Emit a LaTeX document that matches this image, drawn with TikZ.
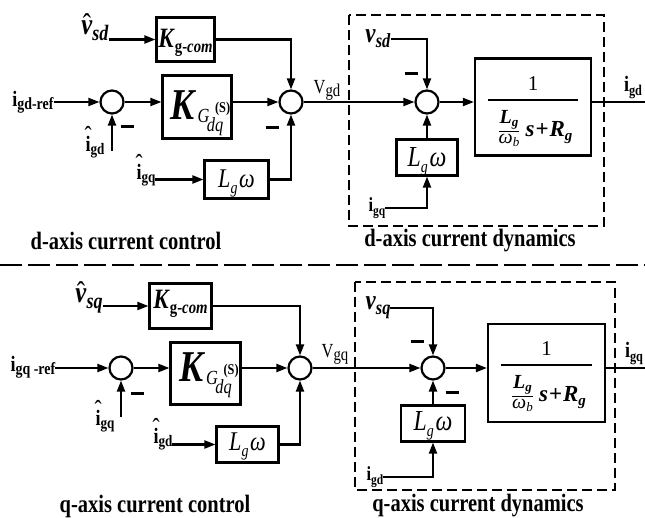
\documentclass[tikz,border=0pt]{standalone}
\usepackage{fontspec}
\setmainfont{Liberation Serif}
\usepackage{graphicx}
\usetikzlibrary{arrows.meta}
\newcommand{\fsz}[2]{{\fontsize{#1}{#1}\selectfont #2}}
\newcommand{\sq}[1]{\scalebox{0.82}[1]{#1}}
\newcommand{\bi}[1]{\textbf{\textit{#1}}}
\newcommand{\lo}[2][4pt]{\raisebox{-#1}{#2}}
\newcommand{\bl}[2]{\raisebox{-#1}[0pt][0pt]{#2}}
\newcommand{\hatover}[3]{\ooalign{#1\cr\hidewidth\raisebox{#2}{\fsz{#3}{\symbol{"02C6}}}\hidewidth\cr}}
\newcommand{\KGtxt}{\sq{\fsz{44}{\bi{K}}\hspace{1pt}\lo[3pt]{\fsz{20}{\textit{G}}}\rlap{\hspace{7pt}\raisebox{7pt}{\fsz{15}{\textbf{(S)}}}}\hspace{-3pt}\lo[12pt]{\fsz{20}{\textit{dq}}}}}
\newcommand{\KCtxt}{\sq{\fsz{28}{\bi{K}}\lo[5pt]{\fsz{18}{\textbf{g-}\bi{com}}}}}
\newcommand{\LWtxt}[1]{\sq{\fsz{#1}{\textit{L}}\lo[6pt]{\fsz{17}{\textit{g}}}\hspace{2pt}\fsz{#1}{\textit{ω}}}}
\newcommand{\TFtxt}{\fsz{20}{$\displaystyle{\hbox{\fsz{21}{1}}\above 1.8pt\hbox{\rule{0pt}{30pt}\hspace{10pt}${\hbox{\fsz{20}{\bi{L}\lo[3pt]{\fsz{13}{\bi{g}}}}}\above 0.8pt\hbox{\fsz{20}{\textit{ω}\lo[3pt]{\fsz{13}{\textit{b}}}}}}$\hspace{5pt}\fsz{23}{\bi{s}\hspace{1pt}\textbf{+}\hspace{1pt}\bi{R}\lo[4pt]{\fsz{15}{\bi{g}}}}\hspace{6pt}}}$}}
\begin{document}
\begin{tikzpicture}[x=1pt,y=-1pt,
  blk/.style={draw, line width=2.2pt, inner sep=0pt},
  sumn/.style={circle, draw, line width=2.2pt, minimum size=23pt, inner sep=0pt},
  lbl/.style={inner sep=0pt, outer sep=0pt},
  sig/.style={line width=2.1pt, -{Triangle[length=11pt,width=8pt]}},
  wire/.style={line width=2.1pt},
  frame/.style={line width=2.2pt, dash pattern=on 10pt off 5pt},
  sepline/.style={line width=2.2pt, dash pattern=on 22pt off 6pt},
  minus/.style={inner sep=0pt}
]
\useasboundingbox (0,0) rectangle (645,518);
% ================= d-axis =================
\node[blk, minimum width=58pt, minimum height=44pt] (kgc1) at (185.5,39.5) {\bl{8.5pt}{\KCtxt}};
\node[blk, minimum width=69pt, minimum height=63pt] (kg1) at (197,107) {\bl{13pt}{\KGtxt}};
\node[blk, minimum width=64pt, minimum height=38pt] (lgc1) at (236.5,179.5) {\bl{8.5pt}{\LWtxt{27}}};
\node[blk, minimum width=116pt, minimum height=97pt] (tf1) at (533,107) {\bl{-2pt}{\TFtxt}};
\node[blk, minimum width=61pt, minimum height=36pt] (lgd1) at (427,157.5) {\bl{9.5pt}{\LWtxt{29}}};
\node[sumn] (s1) at (112,102) {};
\node[sumn] (s2) at (291,102) {};
\node[sumn] (s3) at (427,102) {};
\node[lbl] (vsdh) at (95,31) {\sq{\fsz{30}{\hatover{\bi{v}}{0pt}{30}}\lo[6pt]{\fsz{22}{\bi{sd}}}}};
\node[lbl] (igdref) at (33,102) {\sq{\fsz{22}{\textbf{i}}\lo[3pt]{\fsz{17}{\textbf{gd-ref}}}}};
\node[lbl] (igdh) at (95,147) {\sq{\fsz{22}{\hatover{\textbf{i}}{7pt}{26}}\lo[3pt]{\fsz{16}{\textbf{gd}}}}};
\node[lbl] (igqh) at (146,175) {\sq{\fsz{22}{\hatover{\textbf{i}}{7pt}{26}}\lo[3pt]{\fsz{16}{\textbf{gq}}}}};
\node[lbl] (vgd) at (327,90) {\sq{\fsz{20}{V}\lo[3pt]{\fsz{18}{gd}}}};
\node[lbl] (vsd) at (378,39) {\sq{\fsz{28}{\bi{v}}\lo[5pt]{\fsz{20}{\bi{sd}}}}};
\node[lbl] (igqd) at (377,208) {\sq{\fsz{20}{\textbf{i}}\lo[4pt]{\fsz{14}{\textbf{gq}}}}};
\node[lbl] (igdo) at (633,88) {\sq{\fsz{22}{\textbf{i}}\lo[4pt]{\fsz{15}{\textbf{gd}}}}};
\node[minus] (m1) at (127,127) {\rule{13pt}{3pt}};
\node[minus] (m2) at (272,128) {\rule{13pt}{3pt}};
\node[minus] (m3) at (411,74) {\rule{13pt}{3pt}};
\coordinate (igdhs) at (112,151);
\coordinate (o1) at (645,102);
\draw[sig] (vsdh.east |- kgc1.west) -- (kgc1.west);
\draw[sig] (kgc1.east) -| (s2.north);
\draw[sig] (igdref.east |- s1) -- (s1.west);
\draw[sig] (s1.east) -- (s1 -| kg1.west);
\draw[sig] (kg1.east |- s2) -- (s2.west);
\draw[sig] (igdhs) -- (s1.south);
\draw[sig] (igqh.east |- lgc1) -- (lgc1.west);
\draw[sig] (lgc1.east) -| (s2.south);
\draw[sig] (s2.east) -- (s3.west);
\draw[sig] (vsd.east) -| (s3.north);
\draw[sig] (lgd1.north) -- (s3.south);
\draw[sig] (igqd.east) -| (lgd1.south);
\draw[sig] (s3.east) -- (s3 -| tf1.west);
\draw[wire] (tf1.east |- s3) -- (o1);
\draw[frame] (349,15) rectangle (604,226);
\node[lbl] (cap1) at (126,241) {\sq{\fsz{25}{\textbf{d-axis current control}}}};
\node[lbl] (cap2) at (470,241) {\sq{\fsz{25}{\textbf{d-axis current dynamics}}}};
% separator
\draw[sepline] (0,265) -- (645,265);
% ================= q-axis =================
\node[blk, minimum width=62pt, minimum height=45pt] (kgc2) at (180.5,306) {\bl{2.5pt}{\KCtxt}};
\node[blk, minimum width=70pt, minimum height=62pt] (kg2) at (205.5,373.5) {\bl{8.5pt}{\KGtxt}};
\node[blk, minimum width=62pt, minimum height=36pt] (lgc2) at (247.5,444.5) {\bl{5.5pt}{\LWtxt{27}}};
\node[blk, minimum width=117pt, minimum height=98pt] (tf2) at (546.5,373) {\bl{-3pt}{\TFtxt}};
\node[blk, minimum width=64pt, minimum height=36pt] (lgd2) at (433,423.5) {\bl{6.5pt}{\LWtxt{29}}};
\node[sumn] (t1) at (121,368) {};
\node[sumn] (t2) at (300,368) {};
\node[sumn] (t3) at (433,368) {};
\node[lbl] (vsqh) at (89,301) {\sq{\fsz{30}{\hatover{\bi{v}}{0pt}{30}}\lo[6pt]{\fsz{22}{\bi{sq}}}}};
\node[lbl] (igqref) at (33,367) {\sq{\fsz{22}{\textbf{i}}\lo[3pt]{\fsz{17}{\textbf{gq -ref}}}}};
\node[lbl] (igqh2) at (105,421) {\sq{\fsz{22}{\hatover{\textbf{i}}{7pt}{26}}\lo[3pt]{\fsz{16}{\textbf{gq}}}}};
\node[lbl] (igdh2) at (163,439) {\sq{\fsz{22}{\hatover{\textbf{i}}{7pt}{26}}\lo[3pt]{\fsz{16}{\textbf{gd}}}}};
\node[lbl] (vgq) at (335,354) {\sq{\fsz{20}{V}\lo[3pt]{\fsz{18}{gq}}}};
\node[lbl] (vsq) at (378,308) {\sq{\fsz{28}{\bi{v}}\lo[5pt]{\fsz{20}{\bi{sq}}}}};
\node[lbl] (igdd) at (375,477) {\sq{\fsz{20}{\textbf{i}}\lo[4pt]{\fsz{14}{\textbf{gd}}}}};
\node[lbl] (igqo) at (634,354) {\sq{\fsz{22}{\textbf{i}}\lo[4pt]{\fsz{15}{\textbf{gq}}}}};
\node[minus] (m4) at (137,393) {\rule{13pt}{3pt}};
\node[minus] (m5) at (417,342) {\rule{13pt}{3pt}};
\node[minus] (m6) at (452,392) {\rule{13pt}{3pt}};
\coordinate (igqhs) at (121,417);
\coordinate (o2) at (645,368);
\draw[sig] (vsqh.east |- kgc2.west) -- (kgc2.west);
\draw[sig] (kgc2.east) -| (t2.north);
\draw[sig] (igqref.east |- t1) -- (t1.west);
\draw[sig] (t1.east) -- (t1 -| kg2.west);
\draw[sig] (kg2.east |- t2) -- (t2.west);
\draw[sig] (igqhs) -- (t1.south);
\draw[sig] (igdh2.east |- lgc2) -- (lgc2.west);
\draw[sig] (lgc2.east) -| (t2.south);
\draw[sig] (t2.east) -- (t3.west);
\draw[sig] (vsq.east) -| (t3.north);
\draw[sig] (lgd2.north) -- (t3.south);
\draw[sig] (igdd.east) -| (lgd2.south);
\draw[sig] (t3.east) -- (t3 -| tf2.west);
\draw[wire] (tf2.east |- t3) -- (o2);
\draw[frame] (355,282) rectangle (615,490);
\node[lbl] (cap3) at (155,506) {\sq{\fsz{25}{\textbf{q-axis current control}}}};
\node[lbl] (cap4) at (478,506) {\sq{\fsz{25}{\textbf{q-axis current dynamics}}}};
\end{tikzpicture}
\end{document}
